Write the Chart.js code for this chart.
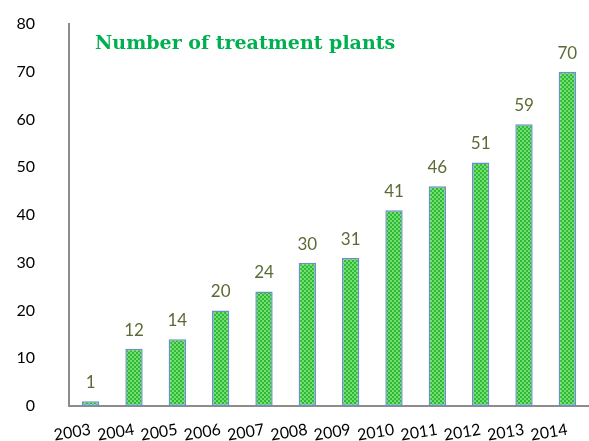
<!DOCTYPE html>
<html>
<head>
<meta charset="utf-8">
<script src="https://cdn.jsdelivr.net/npm/chart.js@4.4.1/dist/chart.umd.min.js"></script>
<style>
  html, body { margin: 0; padding: 0; background: #fff; overflow: hidden; }
  canvas { display: block; }
</style>
</head>
<body>
<canvas id="plantsChart" width="589" height="441"></canvas>
<script>
// data
const years = ['2003', '2004', '2005', '2006', '2007', '2008', '2009', '2010', '2011', '2012', '2013', '2014'];
const plants = [1, 12, 14, 20, 24, 30, 31, 41, 46, 51, 59, 70];
const yTicks = [0, 10, 20, 30, 40, 50, 60, 70, 80];
const chartTitle = 'Number of treatment plants';

// small checkered green fill, like the original bars
function makePattern() {
    var c = document.createElement('canvas');
    c.width = 4;
    c.height = 4;
    var g = c.getContext('2d');
    g.fillStyle = '#72e070';
    g.fillRect(0, 0, 4, 4);
    g.fillStyle = '#30b836';
    g.fillRect(0, 0, 2, 2);
    g.fillRect(2, 2, 2, 2);
    return g.createPattern(c, 'repeat');
}

// title inside plot + value labels above bars
const extras = {
    id: 'extras',
    afterDatasetsDraw: function (chart) {
        var ctx = chart.ctx;
        var area = chart.chartArea;
        ctx.save();
        ctx.fillStyle = '#00b050';
        ctx.font = 'bold 19px "DejaVu Serif", serif';
        ctx.textAlign = 'left';
        ctx.textBaseline = 'middle';
        ctx.fillText(chartTitle, area.left + 26, area.top + 20);

        ctx.fillStyle = '#5b6b35';
        ctx.font = '17px Lato, "Open Sans", sans-serif';
        ctx.textAlign = 'center';
        ctx.textBaseline = 'bottom';
        var meta = chart.getDatasetMeta(0);
        meta.data.forEach(function (bar, i) {
            ctx.fillText(plants[i], bar.x, bar.y - 10);
        });
        ctx.restore();
    }
};

var area = document.getElementById('plantsChart').getContext('2d');
var plantsChart = new Chart(area, {
    type: 'bar',
    data: {
        labels: years,
        datasets: [
            {
                label: chartTitle,
                data: plants,
                backgroundColor: makePattern(),
                borderColor: '#6a8fd0',
                borderWidth: 1.5,
                borderSkipped: false,
                barPercentage: 0.4,
                categoryPercentage: 1.0
            }
        ]
    },
    options: {
        responsive: false,
        animation: false,
        layout: {
            padding: { top: 24, left: 0, right: 0, bottom: 0 }
        },
        scales: {
            x: {
                grid: { display: false, drawTicks: false },
                border: { display: true, color: '#8c8c8c', width: 2 },
                ticks: {
                    color: '#000',
                    font: { family: 'Lato, "Open Sans", sans-serif', size: 16 },
                    minRotation: 9,
                    maxRotation: 9,
                    padding: 14
                },
                // let the first rotated label run off the left edge like the original
                afterFit: function (axis) {
                    axis.paddingLeft = 0;
                    axis.paddingRight = 0;
                    axis.height = 35;
                }
            },
            y: {
                min: 0,
                max: 80,
                afterBuildTicks: function (axis) {
                    axis.ticks = yTicks.map(function (v) { return { value: v }; });
                },
                afterFit: function (axis) {
                    axis.width = 69;
                    axis.paddingTop = 0;
                    axis.paddingBottom = 0;
                },
                grid: { display: false, drawTicks: false },
                border: { display: true, color: '#8c8c8c', width: 2 },
                ticks: {
                    color: '#000',
                    font: { family: 'Lato, "Open Sans", sans-serif', size: 16 },
                    padding: 34
                }
            }
        },
        plugins: {
            legend: { display: false },
            tooltip: { enabled: false }
        }
    },
    plugins: [extras]
});
</script>
</body>
</html>
